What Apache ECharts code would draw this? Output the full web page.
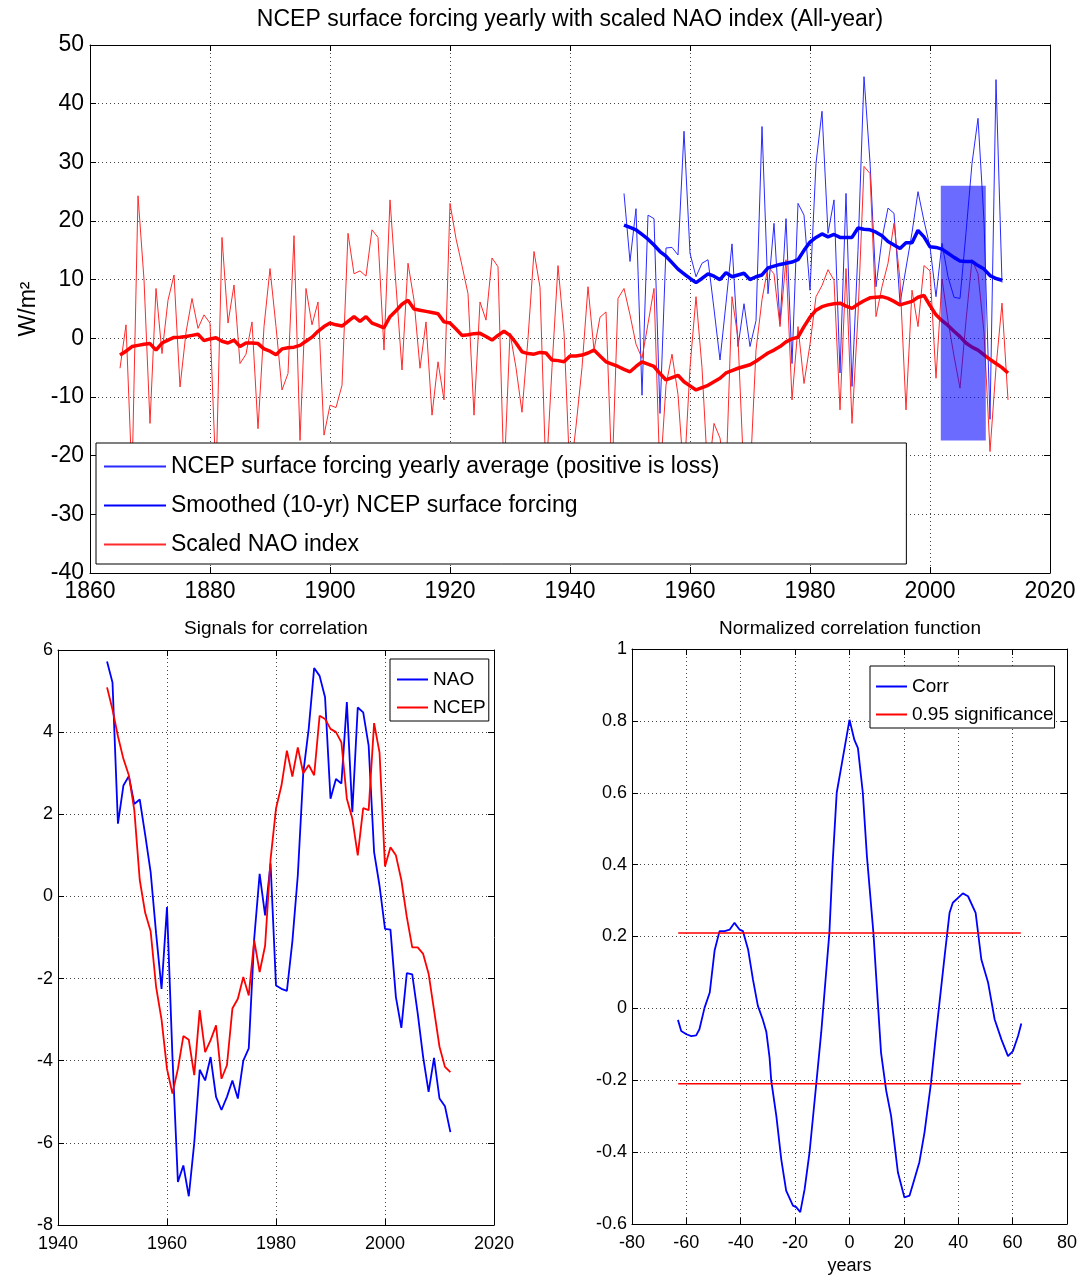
<!DOCTYPE html>
<html>
<head>
<meta charset="utf-8">
<script src="https://cdn.jsdelivr.net/npm/echarts@6/dist/echarts.min.js"></script>
<style>
html,body{margin:0;padding:0;background:#fff;}
#c{width:1080px;height:1276px;}
</style>
</head>
<body>
<div id="c"></div>
<script>
// ---------- DATA ----------
// Top panel: yearly series (values per consecutive year from start year)
const ncepStartYear = 1949;
const ncepYearly = [24.7,13.1,22.1,-9.7,21.0,20.4,-12.8,15.4,15.5,14.2,35.3,14.5,10.5,12.8,13.4,5,-3.7,6,16.1,-1.4,5.9,-1.4,3,36.1,7.6,19.6,2.4,20.4,-4.3,23.0,21,8.2,29.8,38.7,17.9,23.6,-5.9,24.7,-8.2,15,44.6,30,8.8,17,22.2,21.3,5.9,12,18,25.0,20,15.6,7.1,16.2,10.5,7,6.8,18,29.8,37.5,20,-13.8,44.1,9.5];
const ncepSmoothed = [19.3,18.9,18.5,17.7,16.9,15.9,14.8,14.0,12.9,11.8,11.0,10.2,9.5,10.2,11.0,10.6,10.0,11.2,10.5,10.8,11.1,10.0,10.5,10.8,12.0,12.3,12.6,12.8,13.0,13.4,15.0,16.4,17.2,17.8,17.3,17.7,17.2,17.2,17.2,18.8,18.6,18.5,18.1,17.5,16.5,15.9,15.3,16.3,16.3,18.4,17.3,15.6,15.5,15.2,14.5,13.8,13.2,13.1,13.1,12.4,11.8,10.7,10.2,9.9];
const naoStartYear = 1865;
const naoScaled = [-5.1,2.3,-24,24.3,10,-14.5,8.5,-2.6,6.5,10.8,-8.3,1,6.8,1.7,4.0,2.6,-24,17.2,2.6,9.1,-4.3,-2.7,2.8,-15.4,2,11.9,2,-8.8,-6.0,17.5,-17.4,8.5,2.3,6.2,-16.5,
  -11.4,-11.8,-8.0,17.9,11.0,11.5,10.6,18.5,17.2,-2.0,23.6,9,-5.4,12.8,6.5,-5.1,2.8,-13.1,-4.0,-10.5,23.0,17,12.4,7.6,-13.1,6.2,3.1,13.7,12.2,-24,0.9,-5,-12.6,0,14.8,8.7,-24,-5,12.4,1,
  -24,-15,-5,8.8,-2.0,3.6,4.5,-24,6.8,8.5,4,-1,-3.4,2.5,8.5,-24,-8,-2.7,-9.6,-24,-5,7.1,-5,-24,-14.5,-17,-24,7.1,0,-24,-24,-2,6.6,12.2,11,2,13.4,-10.5,2,-7.7,-1,7.1,
  9,11.7,9.9,-12.2,11.9,-14.5,4,29.3,28.1,3.7,8.8,12.8,19.6,10,-12.2,8.2,2,12.4,11.5,-6.8,10.1,3,-3,-8.5,3,13.4,11,1,-19.3,-5,6,-10.5];
const naoSmoothed = [-2.85,-2.2,-1.4,-1.2,-1.0,-0.9,-2.0,-0.8,-0.3,0.15,0.2,0.3,0.5,0.7,-0.4,-0.1,0.1,-0.5,-0.8,-0.3,-1.4,-0.8,-0.8,-0.9,-1.8,-2.2,-2.8,-1.8,-1.6,-1.5,-1.2,-0.5,0.2,1.2,2.0,
  2.6,2.3,2.1,2.9,3.7,2.9,3.7,2.6,2.2,1.8,3.7,4.7,5.8,6.5,5.0,4.8,4.6,4.4,4.2,2.8,2.6,1.6,0.5,0.6,0.8,0.85,0.3,-0.3,0.5,1.2,0.5,-0.8,-2.3,-2.6,-2.7,-2.4,-2.5,-3.7,-3.8,-4.0,
  -3.0,-3.0,-2.85,-2.5,-2.0,-3.0,-4.0,-4.4,-4.8,-5.3,-5.7,-4.8,-4.0,-4.4,-4.8,-6.0,-7.1,-6.7,-6.3,-7.4,-8.1,-8.8,-8.4,-8.0,-7.4,-6.8,-5.9,-5.5,-5.1,-4.8,-4.5,-3.9,-3.2,-2.5,-2.0,-1.4,-0.6,-0.1,0.2,2.0,
  3.6,4.8,5.4,5.7,5.9,6.0,5.5,5.1,5.8,6.4,6.9,7.0,7.1,6.8,6.3,5.7,6.0,6.3,7.0,7.3,5.6,4.0,3.0,2.2,1.2,0.3,-0.8,-1.5,-2.0,-2.8,-3.6,-4.3,-5.0,-5.9];
// highlighted period box: [yearStart, valueTop, yearEnd, valueBottom]
const highlightBox = [2001.8, 26.0, 2009.3, -17.4];

// Bottom-left panel
const signalStartYear = 1949;
const signalNAO = [5.72,5.21,1.77,2.7,2.93,2.25,2.36,1.5,0.59,-0.9,-2.25,-0.26,-3.9,-6.95,-6.55,-7.3,-6.0,-4.22,-4.48,-3.91,-4.88,-5.2,-4.88,-4.48,-4.92,-4.0,-3.7,-1.03,0.55,-0.46,0.8,-2.17,-2.25,-2.3,-1.1,0.51,3.0,4.08,5.56,5.37,4.85,2.38,2.86,2.75,4.73,2.05,4.6,4.48,3.67,1.08,0.26,-0.79,-0.81,-2.45,-3.2,-1.87,-1.9,-2.85,-3.91,-4.76,-3.93,-4.92,-5.11,-5.74];
const signalNCEP = [5.09,4.55,3.9,3.35,2.95,2.1,0.4,-0.4,-0.85,-2.2,-3.0,-4.2,-4.8,-4.2,-3.4,-3.49,-4.35,-2.77,-3.79,-3.5,-3.14,-4.44,-4.11,-2.73,-2.49,-1.96,-2.41,-1.07,-1.84,-1.2,0.9,2.14,2.7,3.55,2.92,3.63,3.0,3.2,2.95,4.4,4.32,4.08,4.0,3.75,2.38,1.9,1.0,2.15,2.1,4.22,3.5,0.73,1.2,1.0,0.4,-0.5,-1.24,-1.24,-1.4,-1.88,-2.77,-3.66,-4.15,-4.28];

// Bottom-right panel
const corrLag = [-63.1,-61.9,-60,-58.2,-56.4,-55.2,-53.3,-51.4,-49.6,-47.8,-45.9,-44.1,-42.3,-40.4,-39.2,-37.3,-35.5,-33.7,-31.9,-30.6,-29.4,-28.8,-26.9,-25.1,-23.3,-20.8,-19.6,-18.1,-16.5,-14.7,-12.3,-10.4,-8.6,-7.4,-6.2,-4.7,-2.8,0,1.8,3.1,4.9,6.4,8.8,9.8,11.6,13.5,15.3,17.8,20.2,22.1,23.9,25.7,27.6,30.0,31.9,33.1,35.0,36.8,38.0,41.7,43.6,46.4,48.5,51.0,53.4,55.9,58.3,60.1,62.0,63.2];
const corrValue = [-0.032,-0.063,-0.072,-0.077,-0.075,-0.058,0.002,0.044,0.162,0.215,0.215,0.219,0.238,0.219,0.215,0.164,0.08,0.007,-0.031,-0.065,-0.137,-0.2,-0.3,-0.42,-0.507,-0.549,-0.553,-0.567,-0.503,-0.401,-0.216,-0.067,0.099,0.21,0.405,0.6,0.682,0.803,0.747,0.724,0.6,0.424,0.21,0.09,-0.123,-0.229,-0.299,-0.456,-0.526,-0.521,-0.475,-0.428,-0.345,-0.206,-0.067,0.016,0.146,0.266,0.294,0.32,0.312,0.266,0.136,0.071,-0.031,-0.087,-0.133,-0.119,-0.077,-0.042];
const sigLags = [-63, 63];
const sigLevel = 0.21;

// tick settings
const topXTicks = {min:1860, max:2020, interval:20};
const topYTicks = {min:-40, max:50, interval:10};
const blXTicks = {min:1940, max:2020, interval:20};
const blYTicks = {min:-8, max:6, interval:2};
const brXTicks = {min:-80, max:80, interval:20};
const brYTicks = {min:-0.6, max:1, interval:0.2};

// ---------- BUILD ----------
function yearSeries(start, vals){ return vals.map((v,i)=>[start+i, v]); }
function pairs(xs, ys){ return xs.map((x,i)=>[x, ys[i]]); }

const FONT = 'Liberation Sans, Arial, Helvetica, sans-serif';
const grid = [
  {left:90, top:45, width:960, height:528},
  {left:58, top:650, width:436, height:575},
  {left:632, top:649, width:436, height:576}
];
const dotted = {show:true, lineStyle:{type:[1,3], color:'#444', width:1}};
function axisPair(kind, gi, ticks, fmt, extra){
  const main = Object.assign({
    gridIndex:gi, type:'value', min:ticks.min, max:ticks.max, interval:ticks.interval,
    axisLine:{show:true, onZero:false, lineStyle:{color:'#000', width:1}},
    axisTick:{show:true, inside:true, length:6, lineStyle:{color:'#000'}},
    splitLine:dotted
  }, extra||{});
  main.position = kind==='x' ? 'bottom' : 'left';
  const mirror = {
    gridIndex:gi, type:'value', min:ticks.min, max:ticks.max, interval:ticks.interval,
    position: kind==='x' ? 'top' : 'right',
    axisLine:{show:true, onZero:false, lineStyle:{color:'#000', width:1}},
    axisTick:{show:true, inside:true, length:6, lineStyle:{color:'#000'}},
    axisLabel:{show:false}, splitLine:{show:false}
  };
  return [main, mirror];
}
const fmtInt = v => String(v);
const fmtDec = v => String(Number(v.toFixed(1)));
function lbl(size, margin, fmt){ return {color:'#000', fontSize:size, fontFamily:FONT, margin:margin, formatter:fmt}; }

const xAxis = [
  ...axisPair('x',0,topXTicks,fmtInt,{axisLabel:lbl(23,7,fmtInt)}),
  ...axisPair('x',1,blXTicks,fmtInt,{axisLabel:lbl(18,10,fmtInt)}),
  ...axisPair('x',2,brXTicks,fmtInt,{axisLabel:lbl(18,10,fmtInt),
     name:'years', nameLocation:'middle', nameGap:33, nameTextStyle:{color:'#000',fontSize:18,fontFamily:FONT}})
];
const yAxis = [
  ...axisPair('y',0,topYTicks,fmtInt,{axisLabel:lbl(23,6,fmtInt), name:'W/m\u00B2', nameLocation:'middle', nameGap:38, nameRotate:90,
     nameTextStyle:{color:'#000',fontSize:23,fontFamily:FONT}}),
  ...axisPair('y',1,blYTicks,fmtInt,{axisLabel:lbl(18,5,fmtInt)}),
  ...axisPair('y',2,brYTicks,fmtDec,{axisLabel:lbl(18,5,fmtDec)})
];

const N1 = 'NCEP surface forcing yearly average (positive is loss)';
const N2 = 'Smoothed (10-yr) NCEP surface forcing';
const N3 = 'Scaled NAO index';

const series = [
  {name:N1, type:'line', xAxisIndex:0, yAxisIndex:0, data:yearSeries(ncepStartYear, ncepYearly), symbol:'none',
   color:'#2a2aff', lineStyle:{width:1, color:'#2a2aff'}, z:2},
  {name:N2, type:'line', xAxisIndex:0, yAxisIndex:0, data:yearSeries(ncepStartYear, ncepSmoothed), symbol:'none',
   color:'#0000ff', lineStyle:{width:3.5, color:'#0000ff'}, z:3},
  {name:N3, type:'line', xAxisIndex:0, yAxisIndex:0, data:yearSeries(naoStartYear, naoScaled), symbol:'none',
   color:'#ff2a2a', lineStyle:{width:1, color:'#ff2a2a'}, z:2},
  {name:'Smoothed NAO', type:'line', xAxisIndex:0, yAxisIndex:0, data:yearSeries(naoStartYear, naoSmoothed), symbol:'none',
   color:'#ff0000', lineStyle:{width:3.5, color:'#ff0000'}, z:3},
  {name:'box', type:'custom', xAxisIndex:0, yAxisIndex:0, coordinateSystem:'cartesian2d', z:3.5, silent:true,
   data:[highlightBox],
   renderItem:function(params, api){
     const p0 = api.coord([api.value(0), api.value(1)]);
     const p1 = api.coord([api.value(2), api.value(3)]);
     return {type:'rect', shape:{x:p0[0], y:p0[1], width:p1[0]-p0[0], height:p1[1]-p0[1]},
             style:{fill:'rgba(0,0,255,0.58)'}};
   }},
  {name:'NAO', type:'line', xAxisIndex:2, yAxisIndex:2, data:yearSeries(signalStartYear, signalNAO), symbol:'none',
   color:'#0000ff', lineStyle:{width:1.8, color:'#0000ff'}},
  {name:'NCEP', type:'line', xAxisIndex:2, yAxisIndex:2, data:yearSeries(signalStartYear, signalNCEP), symbol:'none',
   color:'#ff0000', lineStyle:{width:1.8, color:'#ff0000'}},
  {name:'Corr', type:'line', xAxisIndex:4, yAxisIndex:4, data:pairs(corrLag, corrValue), symbol:'none',
   color:'#0000ff', lineStyle:{width:1.8, color:'#0000ff'}},
  {name:'0.95 significance', type:'line', xAxisIndex:4, yAxisIndex:4, data:sigLags.map(l=>[l, sigLevel]), symbol:'none',
   color:'#ff0000', lineStyle:{width:1.5, color:'#ff0000'}},
  {name:'0.95 significance', type:'line', xAxisIndex:4, yAxisIndex:4, data:sigLags.map(l=>[l, -sigLevel]), symbol:'none',
   color:'#ff0000', lineStyle:{width:1.5, color:'#ff0000'}}
];

const legendBase = {orient:'vertical', backgroundColor:'#fff', borderColor:'#000', borderWidth:1,
  selectedMode:false, itemStyle:{opacity:0}};
const legend = [
  Object.assign({}, legendBase, {data:[N1,N2,N3], left:96, top:443, padding:[12,187,8,7],
    itemWidth:62, itemHeight:20, itemGap:16, textStyle:{color:'#000',fontFamily:FONT,fontSize:23}}),
  Object.assign({}, legendBase, {data:['NAO','NCEP'], left:390, top:659, padding:[11,3,4,6],
    itemWidth:31, itemHeight:16, itemGap:9, textStyle:{color:'#000',fontFamily:FONT,fontSize:19}}),
  Object.assign({}, legendBase, {data:['Corr','0.95 significance'], left:870, top:666, padding:[11,1,4,5],
    itemWidth:31, itemHeight:16, itemGap:9, textStyle:{color:'#000',fontFamily:FONT,fontSize:19}})
];

const title = [
  {text:'NCEP surface forcing yearly with scaled NAO index (All-year)', left:570, top:8, textAlign:'center', padding:0,
   textStyle:{fontSize:23, fontWeight:'normal', color:'#000', fontFamily:FONT}},
  {text:'Signals for correlation', left:276, top:619, textAlign:'center', padding:0,
   textStyle:{fontSize:19, fontWeight:'normal', color:'#000', fontFamily:FONT}},
  {text:'Normalized correlation function', left:850, top:619, textAlign:'center', padding:0,
   textStyle:{fontSize:19, fontWeight:'normal', color:'#000', fontFamily:FONT}}
];

const chart = echarts.init(document.getElementById('c'), null, {renderer:'canvas'});
chart.setOption({animation:false, backgroundColor:'#fff', title, legend, grid, xAxis, yAxis, series});
</script>
</body>
</html>
